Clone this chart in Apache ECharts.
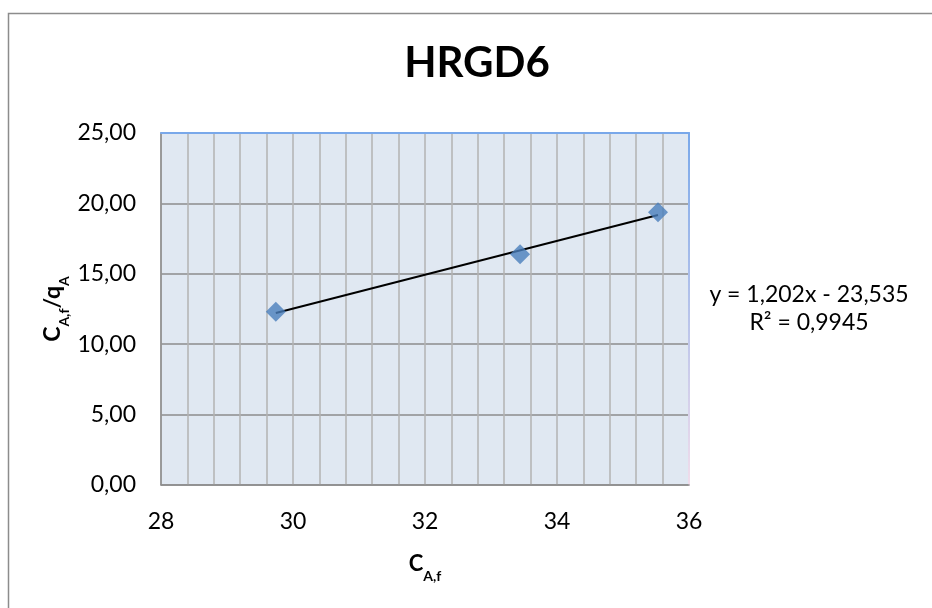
<!DOCTYPE html>
<html>
<head>
<meta charset="utf-8">
<script src="https://cdn.jsdelivr.net/npm/echarts@6/dist/echarts.min.js"></script>
<style>html,body{margin:0;padding:0;background:#fff}#c{width:932px;height:608px}</style>
</head>
<body>
<div id="c"></div>
<script>
var xValues = [29.74, 33.44, 35.53];
var yValues = [12.31, 16.38, 19.37];
var slope = 1.202;
var intercept = -23.535;
var rSquared = '0,9945';
var chartTitle = 'HRGD6';
var xTicks = [28, 30, 32, 34, 36];
var yTicks = [0, 5, 10, 15, 20, 25];

var points = xValues.map(function (x, i) { return [x, yValues[i]]; });
var xFirst = xValues[0], xLast = xValues[xValues.length - 1];
var trend = [[xFirst, slope * xFirst + intercept], [xLast, slope * xLast + intercept]];
function fmtNum(v, d) { return v.toFixed(d).replace('.', ','); }
var eqText = 'y = ' + fmtNum(slope, 3) + 'x - ' + fmtNum(-intercept, 3);

var FONT = 'Lato';
var richName = {
  m: { fontFamily: FONT, fontSize: 23, fontWeight: 'bold', fill: '#000', color: '#000', lineHeight: 30, verticalAlign: 'top' },
  s: { fontFamily: FONT, fontSize: 14, fontWeight: 'bold', fill: '#000', color: '#000', lineHeight: 16, verticalAlign: 'bottom' }
};
var chart = echarts.init(document.getElementById('c'));
chart.setOption({
  animation: false,
  backgroundColor: '#fff',
  textStyle: { fontFamily: FONT },
  grid: { left: 161, right: 243, top: 133, bottom: 123, show: true, backgroundColor: '#E0E8F2', borderWidth: 0 },
  xAxis: [{
    type: 'value', min: xTicks[0], max: xTicks[xTicks.length - 1], interval: 2,
    name: '{m|C}{s|A,f}', nameLocation: 'middle', nameGap: 68,
    nameTextStyle: { rich: {
      m: { fontFamily: FONT, fontSize: 22, fontWeight: 'bold', color: '#000', lineHeight: 30, verticalAlign: 'top' },
      s: { fontFamily: FONT, fontSize: 14, fontWeight: 'bold', color: '#000', lineHeight: 16, verticalAlign: 'bottom' }
    } },
    axisLine: { show: true, lineStyle: { color: '#8C8C8C', width: 1.5 } },
    axisTick: { show: false },
    axisLabel: { fontFamily: FONT, fontSize: 23, color: '#000', margin: 25 },
    splitLine: { show: true, lineStyle: { color: '#B3B3B3', width: 1.5 } },
    minorTick: { show: false, splitNumber: 5 },
    minorSplitLine: { show: true, lineStyle: { color: '#B3B3B3', width: 1.5 } }
  }, {
    type: 'value', position: 'top', min: xTicks[0], max: xTicks[xTicks.length - 1],
    axisLine: { show: true, onZero: false, lineStyle: { color: '#79A8EA', width: 2 } },
    axisTick: { show: false }, axisLabel: { show: false }, splitLine: { show: false }
  }],
  yAxis: [{
    type: 'value', min: yTicks[0], max: yTicks[yTicks.length - 1], interval: 5,
    axisLine: { show: true, lineStyle: { color: '#8C8C8C', width: 1.5 } },
    axisTick: { show: false },
    axisLabel: { fontFamily: FONT, fontSize: 23, color: '#000', margin: 25,
      formatter: function (v) { return fmtNum(v, 2); } },
    splitLine: { show: true, lineStyle: { color: '#8C8C8C', width: 1.5 } }
  }, {
    type: 'value', position: 'right', min: yTicks[0], max: yTicks[yTicks.length - 1],
    axisLine: { show: true, onZero: false, lineStyle: { color: new echarts.graphic.LinearGradient(0, 0, 0, 1, [{ offset: 0, color: '#79A8EA' }, { offset: 1, color: '#F2DDEB' }]), width: 2 } },
    axisTick: { show: false }, axisLabel: { show: false }, splitLine: { show: false }
  }],
  graphic: [
    { type: 'rect', silent: true, z: -10, shape: { x: 8.5, y: 13.5, width: 2000, height: 2000 },
      style: { fill: 'none', stroke: '#8C8C8C', lineWidth: 1.5 } },
    { type: 'text', x: 477, y: 63, style: { text: chartTitle, x: 0, y: 0,
      fontFamily: FONT, fontSize: 42, fontWeight: 'bold', fill: '#000', align: 'center', verticalAlign: 'middle' } },
    { type: 'text', x: 809, y: 309, style: { text: eqText + '\n' + 'R² = ' + rSquared, x: 0, y: 0,
      fontFamily: FONT, fontSize: 23, fill: '#000', align: 'center', verticalAlign: 'middle', lineHeight: 28 } },
    { type: 'text', x: 56, y: 309, rotation: Math.PI / 2, style: { text: '{m|C}{s|A,f}{m|/q}{s|A}', x: 0, y: 0,
      align: 'center', verticalAlign: 'middle', rich: richName } }
  ],
  series: [{
    type: 'line', data: trend, symbol: 'none', z: 3,
    lineStyle: { color: '#000', width: 2 }
  }, {
    type: 'scatter', data: points, symbol: 'diamond', symbolSize: 20, z: 4,
    itemStyle: { color: '#4A7EBB' }
  }]
});
</script>
</body>
</html>
